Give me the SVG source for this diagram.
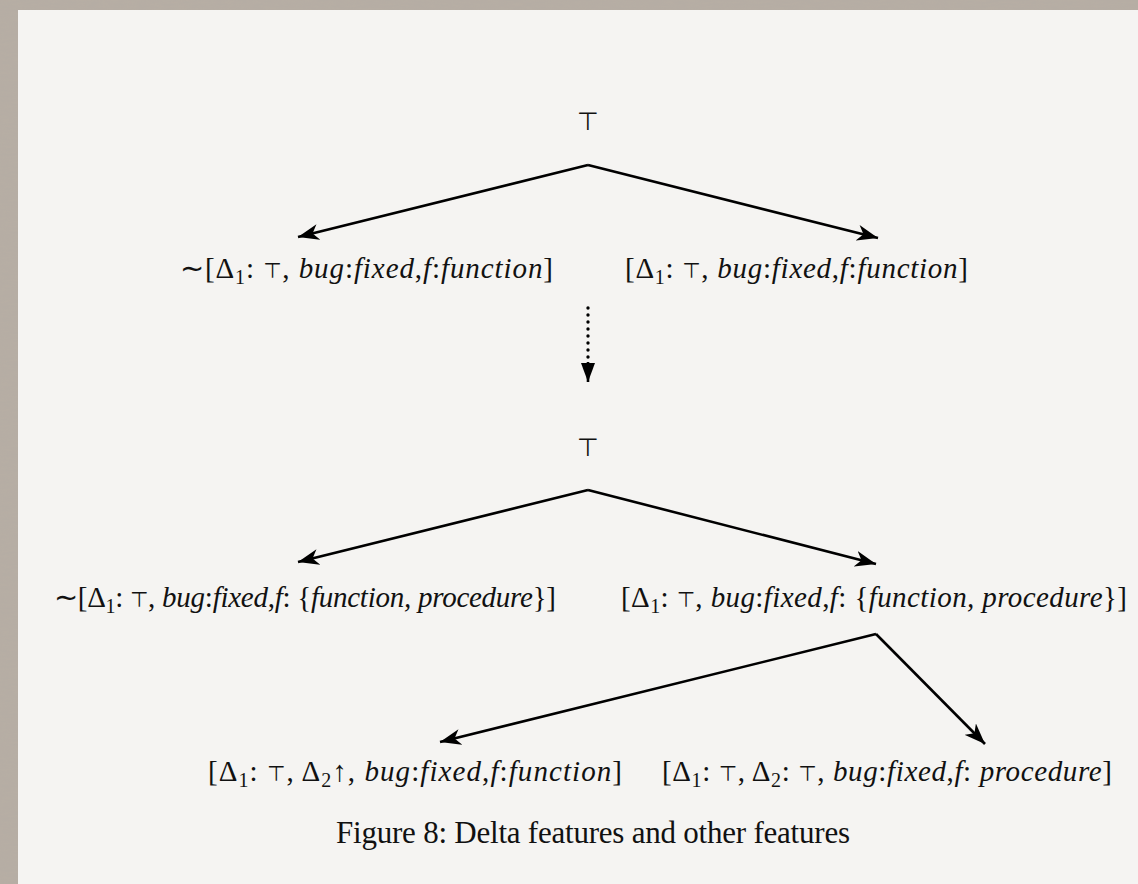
<svg xmlns="http://www.w3.org/2000/svg" width="1138" height="884" viewBox="0 0 1138 884">
  <style>
    .lbl { font-family: "Liberation Serif", "Times New Roman", serif; font-size: 29px; fill: #111; }
    .it { font-style: italic; }
    .sub { font-size: 20px; }
    .top { font-family: "DejaVu Sans", sans-serif; font-size: 21px; }
    .node-top { font-family: "DejaVu Sans", sans-serif; font-size: 25px; fill: #111; }
    .edge { fill: none; stroke: #000; stroke-width: 2.6; }
    .dots { fill: none; stroke: #000; stroke-width: 3.4; stroke-linecap: round; stroke-dasharray: 0 7; }
    .caption { font-family: "Liberation Serif", "Times New Roman", serif; font-size: 31px; fill: #111; }
  </style>
  <defs>
    <marker id="head" markerUnits="userSpaceOnUse" markerWidth="24" markerHeight="16" refX="21" refY="8" orient="auto">
      <path d="M0,0 L21,8 L0,16 L6,8 Z" fill="#000"/>
    </marker>
    <marker id="tri" markerUnits="userSpaceOnUse" markerWidth="20" markerHeight="14" refX="19" refY="7" orient="auto">
      <path d="M0,0 L19,7 L0,14 Z" fill="#000"/>
    </marker>
    <filter id="grain" x="0" y="0" width="100%" height="100%">
      <feTurbulence type="fractalNoise" baseFrequency="0.08 0.5" numOctaves="2" seed="4" result="n"/>
      <feColorMatrix in="n" type="matrix" values="0 0 0 0 0.45  0 0 0 0 0.41  0 0 0 0 0.37  0 0 0 0.7 -0.1" result="tint"/>
      <feComposite in="tint" in2="SourceGraphic" operator="in"/>
    </filter>
  </defs>

  <!-- paper background with textured frame -->
  <rect x="0" y="0" width="1138" height="884" fill="#b7aea4"/>
  <rect x="0" y="0" width="1138" height="884" fill="#b7aea4" filter="url(#grain)"/>
  <rect x="18" y="10" width="1120" height="874" fill="#f5f4f2"/>

  <!-- connectors -->
  <g id="connectors">
    <path class="edge" d="M588,165 L298,237" marker-end="url(#head)"/>
    <path class="edge" d="M588,165 L878,238" marker-end="url(#head)"/>
    <path class="dots" d="M588,308 L588,362"/>
    <path class="edge" d="M588,362 L588,382" stroke-width="1" marker-end="url(#tri)"/>
    <path class="edge" d="M588,490 L298,562" marker-end="url(#head)"/>
    <path class="edge" d="M588,490 L876,564" marker-end="url(#head)"/>
    <path class="edge" d="M876,634 L440,742" marker-end="url(#head)"/>
    <path class="edge" d="M876,634 L985,744" marker-end="url(#head)"/>
  </g>

  <!-- upper lattice -->
  <g id="top1"><text class="node-top" x="588" y="130" text-anchor="middle">⊤</text></g>

  <g id="neg1">
    <text class="lbl" x="180" y="278" textLength="373" lengthAdjust="spacing">∼[Δ<tspan class="sub" dy="6">1</tspan><tspan dy="-6">: </tspan><tspan class="top">⊤</tspan>, <tspan class="it">bug</tspan>:<tspan class="it">fixed</tspan>,<tspan class="it">f</tspan>:<tspan class="it">function</tspan>]</text>
  </g>

  <g id="pos1">
    <text class="lbl" x="625" y="278" textLength="343" lengthAdjust="spacing">[Δ<tspan class="sub" dy="6">1</tspan><tspan dy="-6">: </tspan><tspan class="top">⊤</tspan>, <tspan class="it">bug</tspan>:<tspan class="it">fixed</tspan>,<tspan class="it">f</tspan>:<tspan class="it">function</tspan>]</text>
  </g>

  <!-- lower lattice -->
  <g id="top2"><text class="node-top" x="588" y="456" text-anchor="middle">⊤</text></g>

  <g id="neg2">
    <text class="lbl" x="54" y="607" textLength="502" lengthAdjust="spacing">∼[Δ<tspan class="sub" dy="6">1</tspan><tspan dy="-6">: </tspan><tspan class="top">⊤</tspan>, <tspan class="it">bug</tspan>:<tspan class="it">fixed</tspan>,<tspan class="it">f</tspan>: {<tspan class="it">function, procedure</tspan>}]</text>
  </g>

  <g id="pos2">
    <text class="lbl" x="621" y="607" textLength="506" lengthAdjust="spacing">[Δ<tspan class="sub" dy="6">1</tspan><tspan dy="-6">: </tspan><tspan class="top">⊤</tspan>, <tspan class="it">bug</tspan>:<tspan class="it">fixed</tspan>,<tspan class="it">f</tspan>: {<tspan class="it">function, procedure</tspan>}]</text>
  </g>

  <g id="leaf-function">
    <text class="lbl" x="208" y="781" textLength="414" lengthAdjust="spacing">[Δ<tspan class="sub" dy="6">1</tspan><tspan dy="-6">: </tspan><tspan class="top">⊤</tspan>, Δ<tspan class="sub" dy="6">2</tspan><tspan dy="-6">↑, </tspan><tspan class="it">bug</tspan>:<tspan class="it">fixed</tspan>,<tspan class="it">f</tspan>:<tspan class="it">function</tspan>]</text>
  </g>

  <g id="leaf-procedure">
    <text class="lbl" x="662" y="781" textLength="450" lengthAdjust="spacing">[Δ<tspan class="sub" dy="6">1</tspan><tspan dy="-6">: </tspan><tspan class="top">⊤</tspan>, Δ<tspan class="sub" dy="6">2</tspan><tspan dy="-6">: </tspan><tspan class="top">⊤</tspan>, <tspan class="it">bug</tspan>:<tspan class="it">fixed</tspan>,<tspan class="it">f</tspan>: <tspan class="it">procedure</tspan>]</text>
  </g>

  <g id="caption">
    <text class="caption" x="336" y="843" textLength="514" lengthAdjust="spacing">Figure 8:  Delta features and other features</text>
  </g>
</svg>
